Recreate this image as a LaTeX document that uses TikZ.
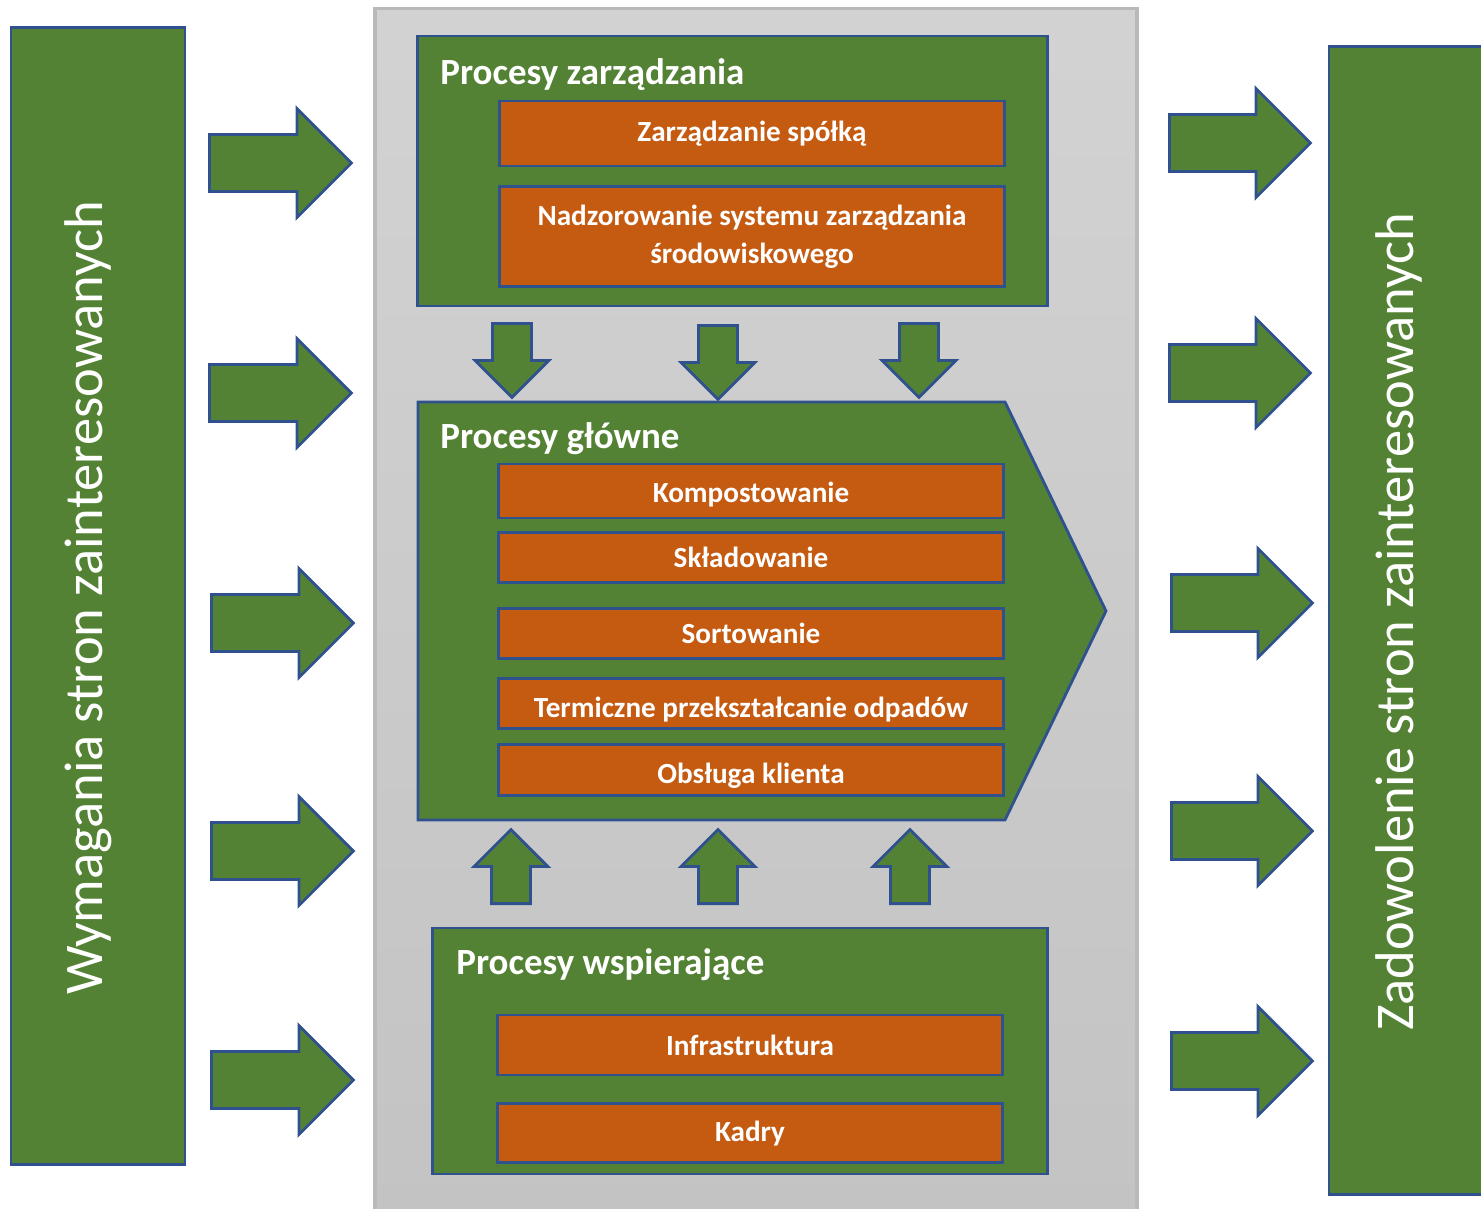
\documentclass[tikz,border=0pt]{standalone}
\usepackage{fontspec}
\setmainfont{Carlito}
\usetikzlibrary{shapes.arrows, positioning}

\definecolor{procgreen}{HTML}{548235}
\definecolor{procorange}{HTML}{C55A11}
\definecolor{procblue}{HTML}{2F528F}

% text set a little low in its box, as in the source chart
\newcommand{\lowtext}[2]{\raisebox{-#1}[\height][\depth]{#2}}

\begin{document}
\begin{tikzpicture}[x=0.01cm,y=-0.01cm,line width=0.8pt,
    group/.style={draw=procblue,fill=procgreen,inner sep=0pt},
    task/.style={draw=procblue,fill=procorange,text=white,inner sep=0pt,
        minimum width=5.05cm,align=center,
        font=\bfseries\fontsize{8.3}{10.8}\selectfont},
    heading/.style={text=white,inner sep=0pt,anchor=base west,
        font=\bfseries\fontsize{10.5}{12}\selectfont},
    side/.style={text=white,inner sep=0pt,rotate=90,anchor=base,
        font=\fontsize{15.5}{18}\selectfont},
    bigarrow/.style={single arrow,draw=procblue,fill=procgreen,
        inner xsep=0pt,inner ysep=0.27cm,
        minimum height=1.42cm,single arrow head extend=0.26cm,anchor=tail},
    smallarrow/.style={single arrow,draw=procblue,fill=procgreen,
        inner xsep=0pt,inner ysep=0.18cm,
        minimum height=0.74cm,single arrow head extend=0.175cm,anchor=tail}]
        \useasboundingbox (0,0) rectangle (1481,1209);

        % background and side bars
        \node[draw=gray!55,line width=1pt,top color=gray!35,bottom color=gray!47,
            minimum width=7.62cm,minimum height=12.08cm] (bg) at (756,613)
            {};

        \node[group,minimum width=1.74cm,minimum height=11.36cm] (reqbar) at (98,596)
            {};
        \node[side] (reqtext) at (103,598)
            {Wymagania stron zainteresowanych};

        \node[group,minimum width=1.70cm,minimum height=11.47cm] (satbar) at (1414,620.5)
            {};
        \node[side] (sattext) at (1413,622)
            {Zadowolenie stron zainteresowanych};

        % management processes
        \node[group,minimum width=6.29cm,minimum height=2.70cm] (mgmt) at (732.5,171)
            {};
        \node[heading] (mgmtTitle) at (439,84)
            {Procesy zarządzania};
        \node[task,minimum height=0.65cm] (company) at (752,133.5)
            {Zarządzanie spółką};
        \node[task,minimum height=1.00cm] (ems) [below=0.18cm of company]
            {Nadzorowanie systemu zarządzania\\środowiskowego};

        % main processes
        \draw[procblue,fill=procgreen] (418,402) -- (1005,402) -- (1106,611)
            -- (1005,820) -- (418,820) -- cycle;
        \node[heading] (mainTitle) at (439,448)
            {Procesy główne};
        \node[task,minimum height=0.54cm] (compost) at (751,491)
            {\lowtext{1pt}{Kompostowanie}};
        \node[task,minimum height=0.50cm] (landfill) [below=0.12cm of compost]
            {Składowanie};
        \node[task,minimum height=0.50cm] (sorting) [below=0.23cm of landfill]
            {Sortowanie};
        \node[task,minimum height=0.50cm] (thermal) [below=0.17cm of sorting]
            {\lowtext{1.7pt}{Termiczne przekształcanie odpadów}};
        \node[task,minimum height=0.51cm] (clients) [below=0.13cm of thermal]
            {\lowtext{1.6pt}{Obsługa klienta}};

        % support processes
        \node[group,minimum width=6.14cm,minimum height=2.46cm] (support) at (740,1051)
            {};
        \node[heading] (supportTitle) at (455,974)
            {Procesy wspierające};
        \node[task,minimum height=0.60cm] (infra) at (750,1045)
            {Infrastruktura};
        \node[task,minimum height=0.59cm] (staff) [below=0.26cm of infra]
            {Kadry};

        % input arrows
        \node[bigarrow] (in1) at (208,163) {};
        \node[bigarrow] (in2) at (208,393) {};
        \node[bigarrow] (in3) at (210,623) {};
        \node[bigarrow] (in4) at (210,851) {};
        \node[bigarrow] (in5) at (210,1080) {};

        % output arrows
        \node[bigarrow,minimum height=1.41cm] (out1) at (1168,143) {};
        \node[bigarrow,minimum height=1.41cm] (out2) at (1168,373) {};
        \node[bigarrow,minimum height=1.41cm] (out3) at (1170,603) {};
        \node[bigarrow,minimum height=1.41cm] (out4) at (1170,831) {};
        \node[bigarrow,minimum height=1.41cm] (out5) at (1170,1061) {};

        % arrows between the process groups
        \node[smallarrow,rotate=-90] (down1) at (512,322) {};
        \node[smallarrow,rotate=-90] (down2) at (718,324) {};
        \node[smallarrow,rotate=-90] (down3) at (919,322) {};

        \node[smallarrow,rotate=90] (up1) at (511,905) {};
        \node[smallarrow,rotate=90] (up2) at (718,905) {};
        \node[smallarrow,rotate=90] (up3) at (910,905) {};
\end{tikzpicture}
\end{document}
